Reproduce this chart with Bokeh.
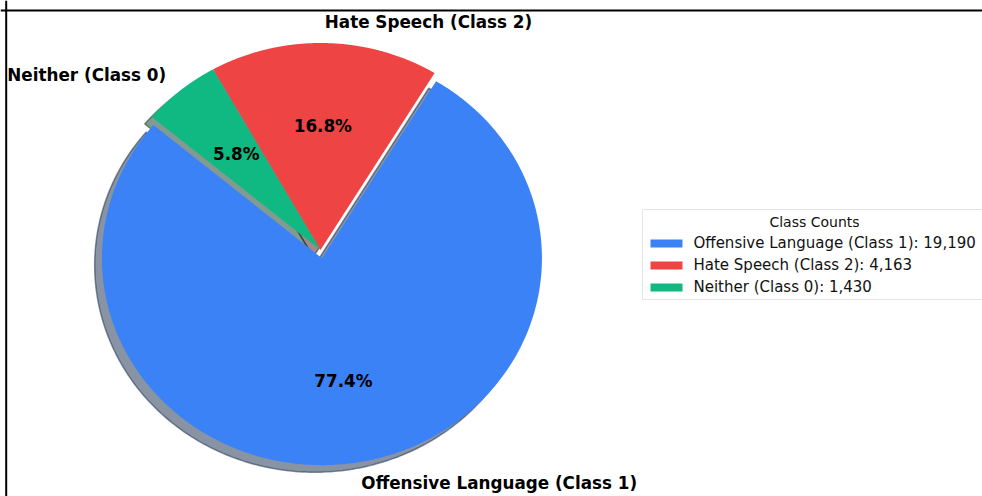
import numpy as np
from bokeh.plotting import figure
from bokeh.models import ColumnDataSource, Range1d, Legend, LegendItem, Span, Label
from bokeh.core.properties import value
from bokeh.embed import file_html
from bokeh.resources import INLINE

# ---- data ----
categories = ["Offensive Language (Class 1)", "Hate Speech (Class 2)", "Neither (Class 0)"]
counts = [19190, 4163, 1430]
colors = ["#3b82f6", "#ef4444", "#10b981"]
explode = [0.04, 0.0, 0.0]
legend_title = "Class Counts"

# ---- style / geometry constants ----
START_ANGLE = 140.0
SHADOW_DX, SHADOW_DY = -0.033, -0.034
LABEL_DIST, PCT_DIST = 1.1, 0.6
N_ARC = 300
W, H = 982, 496
PX_X, PX_Y = 220.0, 207.0      # pixels per unit radius (x, y)
CX_PX, CY_PX = 320.0, 249.5    # pie centre inside the canvas

x0 = -CX_PX / PX_X
x1 = x0 + W / PX_X
y1 = CY_PX / PX_Y
y0 = y1 - H / PX_Y


def darken(hexcol, k=0.3):
    h = hexcol.lstrip("#")
    r, g, b = (int(h[i:i + 2], 16) for i in (0, 2, 4))
    return "#%02x%02x%02x" % (int(r * k), int(g * k), int(b * k))


total = float(sum(counts))
fracs = [c / total for c in counts]

w_xs, w_ys, s_xs, s_ys, s_cols = [], [], [], [], []
lab_x, lab_y, lab_align, pct_x, pct_y, pct_txt = [], [], [], [], [], []
theta = START_ANGLE
for frac, ex, col in zip(fracs, explode, colors):
    t1, t2 = theta, theta + 360.0 * frac
    mid = np.radians(0.5 * (t1 + t2))
    cx, cy = ex * np.cos(mid), ex * np.sin(mid)
    ang = np.radians(np.linspace(t1, t2, N_ARC))
    px = np.concatenate([[cx], cx + np.cos(ang)])
    py = np.concatenate([[cy], cy + np.sin(ang)])
    w_xs.append(list(px)); w_ys.append(list(py))
    s_xs.append(list(px + SHADOW_DX)); s_ys.append(list(py + SHADOW_DY))
    s_cols.append(darken(col))
    lx, ly = cx + LABEL_DIST * np.cos(mid), cy + LABEL_DIST * np.sin(mid)
    lab_x.append(lx); lab_y.append(ly)
    lab_align.append("left" if lx - cx > 0 else "right")
    pct_x.append(cx + PCT_DIST * np.cos(mid)); pct_y.append(cy + PCT_DIST * np.sin(mid))
    pct_txt.append(f"{100 * frac:.1f}%")
    theta = t2

p = figure(width=W, height=H, x_range=Range1d(x0, x1), y_range=Range1d(y0, y1),
           x_axis_type=None, y_axis_type=None, output_backend="svg",
           toolbar_location=None, min_border=0, outline_line_color=None)
p.background_fill_color = "white"
p.border_fill_color = "white"

# shadows
p.patches(xs=s_xs, ys=s_ys, fill_color=s_cols, fill_alpha=0.5,
          line_color=s_cols, line_alpha=0.5, line_width=1.5)

# wedges
wsrc = ColumnDataSource(dict(xs=w_xs, ys=w_ys, color=colors))
r = p.patches(xs="xs", ys="ys", fill_color="color", line_color=None, source=wsrc)

# labels
lsrc = ColumnDataSource(dict(x=lab_x, y=lab_y, text=categories, align=lab_align))
p.text(x="x", y="y", text="text", text_align="align", text_baseline="middle",
       text_font=value("DejaVu Sans"), text_font_style="bold",
       text_font_size="16.8px", text_color="black", source=lsrc)
psrc = ColumnDataSource(dict(x=pct_x, y=pct_y, text=pct_txt))
p.text(x="x", y="y", text="text", text_align="center", text_baseline="middle",
       text_font=value("DejaVu Sans"), text_font_style="bold",
       text_font_size="16.8px", text_color="black", source=psrc)

# frame lines (top / left)
p.add_layout(Span(location=y1 - 10.0 / PX_Y, dimension="width", line_color="black", line_width=2))
p.add_layout(Span(location=x0 + 5.7 / PX_X, dimension="height", line_color="black", line_width=2))

items = [LegendItem(label=f"{c}: {n:,}", renderers=[r], index=i)
         for i, (c, n) in enumerate(zip(categories, counts))]
legend = Legend(items=items, location=(641.5, 196.5), title=" ", margin=0,
                padding=3, spacing=4, label_height=18, label_width=290,
                glyph_width=40, glyph_height=10, label_standoff=8,
                title_standoff=5,
                label_text_font="DejaVu Sans", label_text_font_size="15px",
                label_text_color="#111111",
                title_text_font="DejaVu Sans", title_text_font_size="14px",
                title_text_font_style="normal",
                border_line_color="#cccccc", border_line_width=1,
                background_fill_alpha=0.0)
p.add_layout(legend)

p.add_layout(Label(x=814, y=H - 221, x_units="screen", y_units="screen",
                   text=legend_title, text_align="center", text_baseline="middle",
                   text_font="DejaVu Sans", text_font_size="14px",
                   text_color="#111111", level="overlay"))

open("out.html", "w").write(file_html(p, INLINE))
